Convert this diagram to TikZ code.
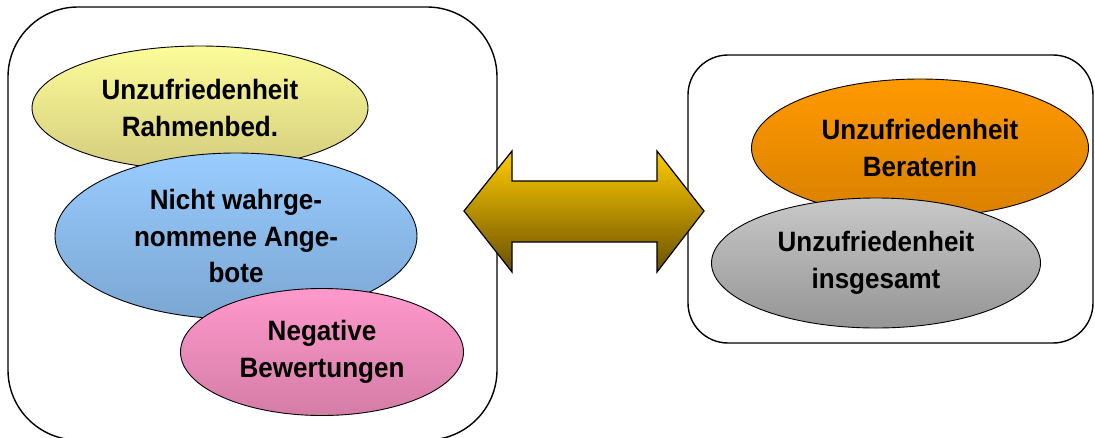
\documentclass[tikz,border=0pt]{standalone}
\usepackage{fontspec}
\setmainfont{Liberation Sans}[FakeStretch=0.93]
\usetikzlibrary{shapes.geometric}
\definecolor{ytop}{HTML}{FCFC99}
\definecolor{ybot}{HTML}{D4CC7E}
\definecolor{btop}{HTML}{99CCFF}
\definecolor{bbot}{HTML}{7BA6D2}
\definecolor{ptop}{HTML}{FF99CC}
\definecolor{pbot}{HTML}{D47DA6}
\definecolor{otop}{HTML}{FF9900}
\definecolor{obot}{HTML}{D88000}
\definecolor{gtop}{HTML}{C8C8C8}
\definecolor{gbot}{HTML}{959595}
\definecolor{atop}{HTML}{FFCC00}
\definecolor{abot}{HTML}{6A5000}
\tikzset{
  frame/.style={draw=black, line width=1.4pt},
  blob/.style={ellipse, draw=black, line width=0.9pt, inner sep=0pt, align=center,
    font=\fontsize{28}{36.5}\selectfont\bfseries},
}
\begin{document}
\begin{tikzpicture}[x=1pt,y=-1pt]
\useasboundingbox (0,0) rectangle (1095,437);
\begin{scope}
\clip (0,0) rectangle (1095,437);
\draw[frame, rounded corners=70pt] (8,7) rectangle (497,440);
\draw[frame, rounded corners=40pt] (688,55) rectangle (1093,343);
\end{scope}
% left group
\node[blob, top color=ytop, bottom color=ybot, minimum width=336pt, minimum height=124pt] (rahmen) at (200,108) {Unzufriedenheit\\Rahmenbed.};
\node[blob, top color=btop, bottom color=bbot, minimum width=362pt, minimum height=166pt] (angebote) at (236,236) {Nicht wahrge-\\nommene Ange-\\bote};
\node[blob, top color=ptop, bottom color=pbot, minimum width=283pt, minimum height=127pt] (bewertung) at (322,352) {Negative\\Bewertungen};
% right group
\node[blob, top color=otop, bottom color=obot, minimum width=337pt, minimum height=138pt] (beraterin) at (920,148) {Unzufriedenheit\\Beraterin};
\node[blob, top color=gtop, bottom color=gbot, minimum width=329pt, minimum height=130pt] (gesamt) at (876,263) {Unzufriedenheit\\insgesamt};
% double arrow
\draw[line width=1.2pt, line join=miter, top color=atop, bottom color=abot]
  (464,211) -- (512,151) -- (512,181) -- (657,181) -- (657,151) -- (704,211)
  -- (657,272) -- (657,242) -- (512,242) -- (512,272) -- cycle;
\end{tikzpicture}
\end{document}
